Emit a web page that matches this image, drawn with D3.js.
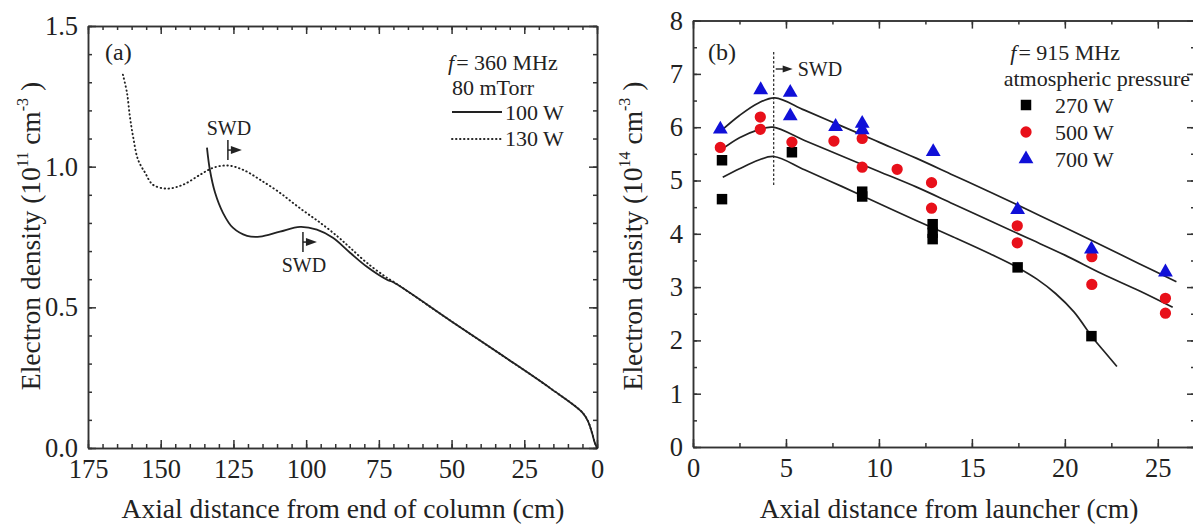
<!DOCTYPE html>
<html>
<head>
<meta charset="utf-8">
<script src="https://cdn.jsdelivr.net/npm/d3@7"></script>
<style>
body { margin: 0; background: #fff; }
svg { display: block; font-family: "Liberation Serif", "Times New Roman", serif; }
</style>
</head>
<body>
<svg id="chart" width="1193" height="525"></svg>
<script>
var width = 1193, height = 525;
var serif = '"Liberation Serif", "Times New Roman", serif';

// (a) f = 360 MHz, 80 mTorr : axial distance from end of column (cm) vs density (1e11 cm-3)
var dist130 = [163, 161.6, 160.6, 159.5, 157.8, 155.4, 152.7, 147.8, 142.3, 136.5, 132, 126.9, 121.7, 115.9, 109, 102.1, 95.2, 89.1, 84.9, 79.1, 72.2, 70, 50, 33, 16, 5, 3, 1.7, 0.8, 0];
var dens130 = [1.327, 1.263, 1.178, 1.107, 1.025, 0.979, 0.936, 0.922, 0.936, 0.971, 0.996, 1.004, 0.989, 0.954, 0.907, 0.852, 0.801, 0.751, 0.712, 0.658, 0.605, 0.591, 0.45, 0.332, 0.212, 0.126, 0.093, 0.053, 0.02, 0];
var dist100 = [134.1, 133.1, 131.3, 128.6, 125.2, 120.3, 115.9, 109, 102.1, 96.3, 90.8, 84.9, 79.1, 72.2, 70, 50, 33, 16, 5, 3, 1.7, 0.8, 0];
var dens100 = [1.068, 0.989, 0.907, 0.836, 0.783, 0.754, 0.751, 0.769, 0.786, 0.776, 0.747, 0.694, 0.644, 0.598, 0.589, 0.45, 0.332, 0.212, 0.126, 0.093, 0.053, 0.02, 0];
// SWD markers (position of bar, density at bar centre)
var swdA = [{d: 126.9, v: 1.059, label: "above"}, {d: 101.1, v: 0.732, label: "below"}];

// (b) f = 915 MHz, atmospheric pressure : axial distance from launcher (cm) vs density (1e14 cm-3)
var pos270 = [1.56, 1.56, 5.32, 9.1, 9.1, 12.89, 12.89, 12.89, 17.46, 21.43];
var dens270 = [5.38, 4.65, 5.53, 4.79, 4.70, 4.18, 4.02, 3.90, 3.37, 2.08];
var pos500 = [1.47, 3.62, 3.62, 5.32, 7.58, 9.1, 9.1, 10.98, 12.83, 12.83, 17.44, 17.44, 21.45, 21.45, 25.41, 25.41];
var dens500 = [5.62, 6.19, 5.96, 5.72, 5.74, 5.79, 5.25, 5.21, 4.96, 4.48, 4.15, 3.83, 3.57, 3.05, 2.79, 2.51];
var pos700 = [1.47, 3.64, 5.23, 5.23, 7.67, 9.1, 9.1, 12.92, 17.46, 21.43, 25.41];
var dens700 = [5.96, 6.70, 6.65, 6.21, 6.01, 6.07, 5.95, 5.54, 4.45, 3.71, 3.28];

var fitPos270 = [1.6, 2.5, 3.5, 4.35, 6, 8, 10, 12, 14, 16, 17.5, 18.5, 19.5, 20.5, 21.5, 22.2, 22.8];
var fit270 = [5.06, 5.22, 5.38, 5.45, 5.20, 4.89, 4.57, 4.25, 3.94, 3.62, 3.36, 3.15, 2.88, 2.53, 2.05, 1.76, 1.51];
var fitPos500 = [1.5, 2.5, 3.5, 4.3, 6, 8, 10, 12, 14, 16, 18, 20, 22, 24, 25.8];
var fit500 = [5.57, 5.80, 5.95, 6.00, 5.75, 5.46, 5.17, 4.88, 4.56, 4.24, 3.92, 3.60, 3.25, 2.93, 2.62];
var fitPos700 = [1.5, 2.5, 3.5, 4.4, 6, 8, 10, 12, 14, 16, 18, 20, 22, 24, 26];
var fit700 = [5.93, 6.22, 6.45, 6.55, 6.32, 6.02, 5.72, 5.42, 5.10, 4.78, 4.45, 4.12, 3.78, 3.44, 3.10];
var swdB = 4.34;

var seriesB = [
    {name: "270 W", pos: pos270, dens: dens270, fitPos: fitPos270, fit: fit270, color: "#000000", shape: d3.symbolSquare, size: 110},
    {name: "500 W", pos: pos500, dens: dens500, fitPos: fitPos500, fit: fit500, color: "#e8101a", shape: d3.symbolCircle, size: 100},
    {name: "700 W", pos: pos700, dens: dens700, fitPos: fitPos700, fit: fit700, color: "#1010d8", shape: d3.symbolTriangle, size: 95}
];

var svg = d3.select("#chart");
var ink = "#222";

function zip(xs, ys) {
    return xs.map(function(d, i) { return [d, ys[i]]; });
}

// box with inward ticks on all four sides
function frame(g, x, y, xMaj, xMin, yMaj, yMin, yFmt) {
    var x0 = d3.min(x.range()), x1 = d3.max(x.range());
    var y0 = d3.max(y.range()), y1 = d3.min(y.range());

    var axes = [
        g.append("g").attr("transform", "translate(0," + y0 + ")")
            .call(d3.axisBottom(x).tickValues(xMaj).tickSize(-8).tickSizeOuter(0).tickPadding(11).tickFormat(d3.format("d"))),
        g.append("g").attr("transform", "translate(0," + y0 + ")")
            .call(d3.axisBottom(x).tickValues(xMin).tickSize(-4).tickSizeOuter(0).tickFormat("")),
        g.append("g").attr("transform", "translate(0," + y1 + ")")
            .call(d3.axisTop(x).tickValues(xMaj).tickSize(-8).tickSizeOuter(0).tickFormat("")),
        g.append("g").attr("transform", "translate(0," + y1 + ")")
            .call(d3.axisTop(x).tickValues(xMin).tickSize(-4).tickSizeOuter(0).tickFormat("")),
        g.append("g").attr("transform", "translate(" + x0 + ",0)")
            .call(d3.axisLeft(y).tickValues(yMaj).tickSize(-8).tickSizeOuter(0).tickPadding(10).tickFormat(yFmt)),
        g.append("g").attr("transform", "translate(" + x0 + ",0)")
            .call(d3.axisLeft(y).tickValues(yMin).tickSize(-4).tickSizeOuter(0).tickFormat("")),
        g.append("g").attr("transform", "translate(" + x1 + ",0)")
            .call(d3.axisRight(y).tickValues(yMaj).tickSize(-8).tickSizeOuter(0).tickFormat("")),
        g.append("g").attr("transform", "translate(" + x1 + ",0)")
            .call(d3.axisRight(y).tickValues(yMin).tickSize(-4).tickSizeOuter(0).tickFormat(""))
    ];
    axes.forEach(function(a) {
        a.attr("font-family", serif).attr("font-size", 26.5);
        a.selectAll("path, line").attr("stroke", "#333").attr("stroke-width", 1.5);
        a.selectAll("text").attr("fill", ink);
    });
}

function arrowHead(g, x, y, len, half) {
    g.append("path")
        .attr("d", "M" + x + "," + (y - half) + "L" + (x + len) + "," + y + "L" + x + "," + (y + half) + "Z")
        .attr("fill", ink);
}

function yTitle(g, tx, ty, exp) {
    var t = g.append("text")
        .attr("transform", "translate(" + tx + "," + ty + ") rotate(-90)")
        .attr("text-anchor", "middle")
        .attr("font-size", 27.5)
        .attr("fill", ink);
    t.append("tspan").text("Electron density (10");
    t.append("tspan").attr("font-size", 16).attr("dy", -12).text(exp);
    t.append("tspan").attr("dy", 12).text(" cm");
    t.append("tspan").attr("font-size", 16).attr("dy", -12).text("-3");
    t.append("tspan").attr("dy", 12).text(" )");
}

// ---------------- panel (a) ----------------
var xA = d3.scaleLinear().domain([175, 0]).range([88, 597]);
var yA = d3.scaleLinear().domain([0, 1.5]).range([448, 26]);
var gA = svg.append("g");

frame(gA, xA, yA, d3.range(0, 176, 25), d3.range(0, 176, 5), [0, 0.5, 1, 1.5], d3.range(0, 1.51, 0.1), d3.format(".1f"));

var lineA = d3.line()
    .x(function(d) { return xA(d[0]); })
    .y(function(d) { return yA(d[1]); })
    .curve(d3.curveCatmullRom.alpha(0.5));

gA.append("path")
    .datum(zip(dist130, dens130))
    .attr("d", lineA)
    .attr("fill", "none")
    .attr("stroke", ink)
    .attr("stroke-width", 1.9)
    .attr("stroke-linecap", "round")
    .attr("stroke-dasharray", "0.5,3.5");

gA.append("path")
    .datum(zip(dist100, dens100))
    .attr("d", lineA)
    .attr("fill", "none")
    .attr("stroke", ink)
    .attr("stroke-width", 1.8);

// SWD markers
swdA.forEach(function(s) {
    var px = xA(s.d), py = yA(s.v);
    gA.append("line")
        .attr("x1", px).attr("x2", px)
        .attr("y1", py - 10).attr("y2", py + 10)
        .attr("stroke", ink).attr("stroke-width", 1.5);
    gA.append("line")
        .attr("x1", px).attr("x2", px + 4)
        .attr("y1", py).attr("y2", py)
        .attr("stroke", ink).attr("stroke-width", 1.5);
    arrowHead(gA, px + 3, py, 11, 4);
    gA.append("text")
        .attr("x", px + 1)
        .attr("y", s.label == "above" ? py - 15 : py + 30)
        .attr("text-anchor", "middle")
        .attr("font-size", 20)
        .attr("fill", ink)
        .text("SWD");
});

gA.append("text").attr("x", 105).attr("y", 60).attr("font-size", 24).attr("fill", ink).text("(a)");

var legA = gA.append("g").attr("font-size", 22).attr("fill", ink);
var fA = legA.append("text").attr("x", 448).attr("y", 70);
fA.append("tspan").attr("font-style", "italic").text("f");
fA.append("tspan").attr("dx", 2).text("= 360 MHz");
legA.append("text").attr("x", 452).attr("y", 95).text("80 mTorr");
legA.append("line").attr("x1", 452).attr("x2", 502).attr("y1", 112).attr("y2", 112)
    .attr("stroke", ink).attr("stroke-width", 1.8);
legA.append("text").attr("x", 505).attr("y", 120).text("100 W");
legA.append("line").attr("x1", 452).attr("x2", 502).attr("y1", 139).attr("y2", 139)
    .attr("stroke", ink).attr("stroke-width", 1.9).attr("stroke-linecap", "round").attr("stroke-dasharray", "0.5,3.5");
legA.append("text").attr("x", 505).attr("y", 146).text("130 W");

yTitle(gA, 40, 236, "11");
gA.append("text")
    .attr("x", 343).attr("y", 518)
    .attr("text-anchor", "middle").attr("font-size", 27.5).attr("fill", ink)
    .text("Axial distance from end of column (cm)");

// ---------------- panel (b) ----------------
var xB = d3.scaleLinear().domain([0, 27]).range([693, 1195]);
var yB = d3.scaleLinear().domain([0, 8]).range([447, 20.6]);
var gB = svg.append("g");

frame(gB, xB, yB, d3.range(0, 26, 5), d3.range(0, 27, 2.5), d3.range(0, 9, 1), d3.range(0, 8.1, 0.5), d3.format("d"));

var lineB = d3.line()
    .x(function(d) { return xB(d[0]); })
    .y(function(d) { return yB(d[1]); })
    .curve(d3.curveCatmullRom.alpha(0.5));

seriesB.forEach(function(s) {
    gB.append("path")
        .datum(zip(s.fitPos, s.fit))
        .attr("d", lineB)
        .attr("fill", "none")
        .attr("stroke", ink)
        .attr("stroke-width", 1.7);
});

seriesB.forEach(function(s) {
    gB.selectAll(null)
        .data(zip(s.pos, s.dens))
        .join("path")
        .attr("transform", function(d) { return "translate(" + xB(d[0]) + "," + yB(d[1]) + ")"; })
        .attr("d", d3.symbol().type(s.shape).size(s.size))
        .attr("fill", s.color);
});

// SWD line and arrow
gB.append("line")
    .attr("x1", xB(swdB)).attr("x2", xB(swdB))
    .attr("y1", yB(7.41)).attr("y2", yB(4.88))
    .attr("stroke", ink).attr("stroke-width", 1.2).attr("stroke-dasharray", "2.5,2");
gB.append("line")
    .attr("x1", xB(swdB) + 2).attr("x2", xB(swdB) + 10)
    .attr("y1", 69).attr("y2", 69)
    .attr("stroke", ink).attr("stroke-width", 1.4);
arrowHead(gB, xB(swdB) + 9, 69, 10, 3.5);
gB.append("text").attr("x", xB(swdB) + 24).attr("y", 76).attr("font-size", 20).attr("fill", ink).text("SWD");

gB.append("text").attr("x", 708).attr("y", 60).attr("font-size", 24).attr("fill", ink).text("(b)");

var legB = gB.append("g").attr("font-size", 22).attr("fill", ink);
var fB = legB.append("text").attr("x", 1120).attr("y", 60).attr("text-anchor", "end");
fB.append("tspan").attr("font-style", "italic").text("f");
fB.append("tspan").attr("dx", 2).text("= 915 MHz");
legB.append("text").attr("x", 1190).attr("y", 86).attr("text-anchor", "end").text("atmospheric pressure");
seriesB.forEach(function(s, i) {
    legB.append("path")
        .attr("transform", "translate(1026," + (105 + i * 27) + ")")
        .attr("d", d3.symbol().type(s.shape).size(s.size))
        .attr("fill", s.color);
    legB.append("text").attr("x", 1055).attr("y", 113 + i * 27).text(s.name);
});

yTitle(gB, 642, 236, "14");
gB.append("text")
    .attr("x", 949).attr("y", 518)
    .attr("text-anchor", "middle").attr("font-size", 27.5).attr("fill", ink)
    .text("Axial distance from launcher (cm)");
</script>
</body>
</html>
